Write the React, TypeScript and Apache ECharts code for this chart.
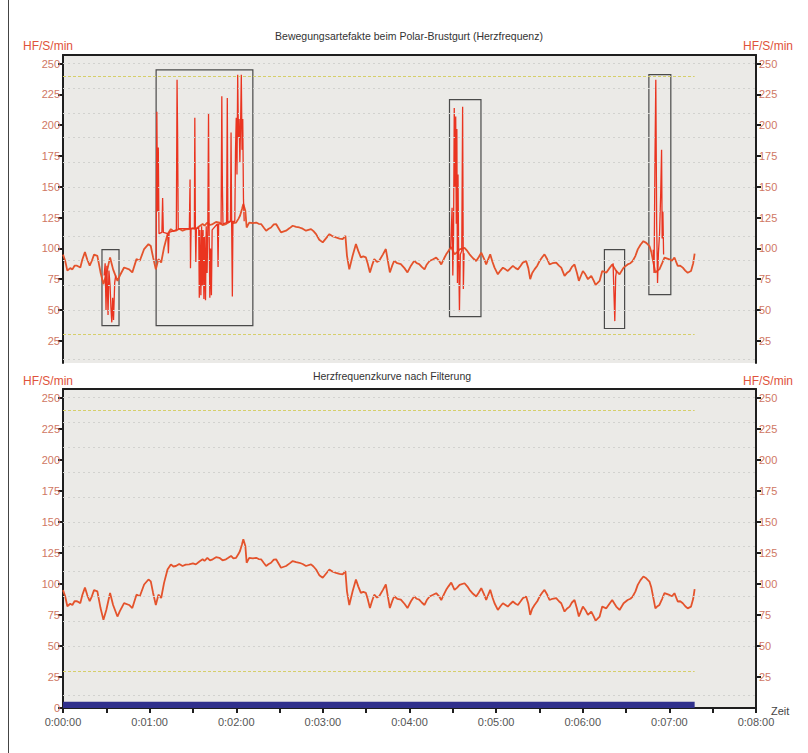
import React, { useEffect, useRef } from "react";
import * as echarts from "echarts";

// Filtered heart rate curve: [seconds, bpm]
const HR_FILTERED: [number, number][] = [
  [0, 95], [1.5, 90], [3, 82], [5, 84], [6.5, 83], [8, 86], [9.7, 86], [12, 84.5], [13.4, 91], [15.2, 97],
  [16.8, 91], [18.5, 86], [20, 90], [21.5, 95], [23.8, 94], [26, 80.5], [28, 71], [30, 79], [32.6, 92.7],
  [34.7, 83], [37.7, 73.7], [39.3, 77.8], [42.3, 84.5], [45.8, 83], [48, 80.5], [50.9, 91.3], [53.2, 90],
  [56.2, 99.5], [59.2, 103.5], [60.8, 102], [62.4, 92.7], [64.3, 83], [66.1, 91.3], [68, 88.6], [70, 100.8],
  [72.4, 111.6], [74.7, 115.7], [76.5, 114], [78.2, 114.4], [80.5, 116], [82.8, 114.4], [85, 115.5],
  [87.4, 115.7], [90, 116.5], [92, 115.7], [94.5, 118], [96.7, 119.8], [98, 118.5], [100, 121], [101.8, 119],
  [103.7, 119.8], [106, 121.5], [108.3, 121], [110.5, 119], [112.9, 119.8], [114.5, 121], [116.4, 122.5],
  [118, 120.5], [119.9, 121], [121.5, 124], [122.6, 126.5], [124, 132], [124.9, 136], [126.3, 130.6],
  [127.2, 117], [129, 121], [131.5, 120.5], [133.8, 121], [135.5, 120], [137.2, 119.8], [139, 117],
  [140.7, 114.4], [142.5, 116], [144.1, 117], [146, 119.5], [147.6, 119.8], [149.5, 116], [151, 113],
  [154.5, 114.4], [157, 116.5], [159.1, 118.4], [161.5, 117.5], [163.7, 117], [166, 116], [168.3, 114.4],
  [171.8, 115.7], [173.5, 114], [175.3, 111.6], [177.5, 107], [179.9, 104.9], [182, 108], [184.5, 111.6],
  [186.5, 110], [189.1, 108.9], [191.5, 108], [193.7, 107.6], [195.6, 110.3], [196.7, 94], [198.3, 83],
  [200.6, 94], [202.9, 103.5], [204.5, 98], [206.3, 92.7], [208, 93.5], [209.8, 92.7], [211, 88],
  [212.6, 80.5], [214, 86], [215.6, 91.3], [217.5, 89], [219, 90], [221.5, 95], [223.6, 99.5], [225, 90],
  [226.4, 80.5], [228, 86], [229.4, 90], [231.5, 88], [234, 87.3], [236.5, 84], [238.6, 80.5], [241, 86],
  [243.3, 90], [245, 88], [246.7, 87.3], [248.5, 85], [250.4, 83], [252, 87], [253.9, 89.8], [256, 91],
  [258.5, 92.5], [260.5, 90], [262, 87], [264, 92], [265.4, 95.2], [267, 98], [268.9, 101.1], [271.2, 95.2],
  [273, 97], [274.7, 99.2], [278.1, 100.5], [280, 98], [281.6, 95.2], [284, 92], [286.2, 89.8], [288, 93],
  [289.7, 96.5], [291.5, 92], [293.1, 87], [295.9, 95.2], [297.5, 89], [298.9, 84.4], [301.2, 79], [303, 82],
  [304.7, 84.4], [306.5, 83], [308.1, 81.7], [310, 84], [311.6, 85.8], [313.5, 84], [315.1, 83], [317, 86],
  [318.5, 88.5], [320.8, 89.8], [322.3, 84], [323.6, 75], [325, 80], [326.6, 83], [328.5, 86], [330.1, 89.8],
  [332, 93], [333.5, 95.2], [335.5, 91], [337, 87], [339, 88], [341.6, 88.5], [343.5, 86], [345.1, 84.4],
  [347.4, 77.7], [349, 80], [350.9, 81.7], [352.5, 85], [354.3, 87], [356, 80], [357.3, 73.7], [358.8, 78],
  [360.1, 81.7], [361.8, 79], [363.6, 75], [365.9, 77.7], [367.5, 74], [368.9, 70.4], [370.3, 72],
  [371.7, 73.7], [373.5, 81.7], [376.3, 80.3], [378.5, 84], [380.4, 87], [382, 84], [383.2, 81.7],
  [385.5, 79], [388.3, 84.4], [391.1, 87], [393, 88], [394.6, 89.8], [396.5, 94], [398.1, 99.2], [400, 103],
  [402, 105.9], [404, 104.5], [406.2, 101.9], [407.5, 97], [408.5, 91.1], [410.3, 80.3], [411.8, 82],
  [413.1, 83], [415, 88], [416.6, 92.5], [420, 91.1], [421.8, 90], [423.5, 92.5], [425.8, 85.8], [427.5, 86],
  [429.3, 84.4], [431, 82], [432.7, 80.3], [435, 81.7], [436.5, 88], [437.5, 95.7],
];

// Motion artefacts seen in the raw chest-strap signal: bursts of [seconds, bpm]
const ARTIFACT_BURSTS: [number, number][][] = [
  [[28.5, 78], [29.2, 88], [29.8, 50], [30.4, 86], [31.2, 46], [31.8, 82], [32.6, 70], [33.2, 52],
   [33.8, 40], [34.4, 60], [35, 42], [35.8, 72], [36.5, 78]],
  [[64.5, 90], [65, 211], [65.5, 130], [66, 182], [66.5, 112], [68.5, 113], [69, 141], [69.5, 113],
   [72.5, 112], [73, 96], [73.5, 113], [78.5, 115], [79, 237], [79.4, 190], [79.8, 116], [87.5, 116],
   [88, 156], [88.3, 84], [88.7, 116], [91, 116], [91.3, 206], [91.7, 116], [92, 89], [92.4, 116],
   [94, 117], [94.4, 60], [94.8, 115], [95.5, 62], [96, 118], [96.5, 70], [97, 115], [97.6, 59], [98, 110],
   [98.7, 58], [99.2, 118], [99.8, 80], [100.3, 117], [100.8, 210], [101.2, 118], [101.7, 60], [102.2, 100],
   [102.8, 62], [103.3, 115], [107, 120], [107.4, 85], [107.8, 120], [109.5, 120], [110, 223.5],
   [110.4, 150], [110.8, 120], [113.3, 121], [113.8, 222], [114.2, 121], [116, 122], [116.4, 194],
   [116.8, 122], [117.3, 61], [117.7, 122], [119, 122], [119.5, 180], [120, 206], [120.5, 160],
   [121, 241], [121.5, 190], [122, 205], [122.5, 170], [123, 200], [123.5, 241], [124, 180], [124.5, 205],
   [125, 140], [125.5, 122]],
  [[268.5, 100], [269.5, 133], [270, 78], [270.5, 110], [271, 214], [271.5, 150], [272, 207], [272.4, 120],
   [272.8, 197], [273.2, 72], [273.6, 160], [274, 100], [274.6, 49], [275.2, 95], [276.2, 98], [276.8, 215],
   [277.3, 67], [277.8, 96]],
  [[381, 88], [381.6, 64], [382.2, 41], [382.8, 77], [383.4, 82]],
  [[408.8, 99], [409.4, 80], [410, 169], [410.6, 237], [411.2, 120], [411.8, 72], [412.4, 96], [413.2, 112],
   [414, 145], [414.6, 180], [415, 108], [415.5, 130], [416, 95]],
];

// Annotation boxes around the artefacts: [t start, t end, bpm low, bpm high]
const ARTIFACT_BOXES: [number, number, number, number][] = [
  [27, 38.8, 37.3, 99],
  [64.5, 131.5, 37.3, 245],
  [267.7, 289.5, 44.6, 220.8],
  [375, 389, 35, 99],
  [405.8, 421, 62.5, 241],
];

const Y_TICKS = [0, 25, 50, 75, 100, 125, 150, 175, 200, 225, 250];
const GRID_LINES = [10, 50, 70, 90, 110, 130, 150, 170, 190, 210, 230, 250];
const LIMIT_LINES = [30, 240];
const RECORD_END = 437.5;
const TIME_MAX = 480;
const TOP_TITLE = "Bewegungsartefakte beim Polar-Brustgurt (Herzfrequenz)";
const BOTTOM_TITLE = "Herzfrequenzkurve nach Filterung";
const Y_NAME = "HF/S/min";
const X_NAME = "Zeit";

const FONT = "Liberation Sans, Arial, sans-serif";
const DARK = "#1e1e1e";
const TICK_COLOR = "#cf7763";
const NAME_COLOR = "#e0533b";
const LINE_COLOR = "#e4532c";
const SPIKE_COLOR = "#ea3420";

function fmtTime(s: number): string {
  const m = Math.floor(s / 60);
  const sec = Math.round(s % 60);
  return `0:${String(m).padStart(2, "0")}:${String(sec).padStart(2, "0")}`;
}

export default function App() {
  const ref = useRef<HTMLDivElement>(null);

  useEffect(() => {
    if (!ref.current) return;
    const chart = echarts.init(ref.current, undefined, { renderer: "svg" });

    const topMin = 7;
    const yMax = 257;
    const TOP_RECT = { left: 63, right: 52, top: 55, height: 308 };
    const BOT_RECT = { left: 63, right: 52, top: 389, height: 319 };
    const darkLine = { show: true, onZero: false, lineStyle: { color: DARK, width: 2 } };

    const yAxis = (gridIndex: number, position: "left" | "right", min: number, ticks: number[]) => ({
      type: "value",
      gridIndex,
      position,
      min,
      max: yMax,
      axisLine: darkLine,
      axisTick: { show: true, length: 5, customValues: ticks, lineStyle: { color: DARK, width: 2 } },
      axisLabel: { customValues: ticks, color: TICK_COLOR, fontSize: 11, fontFamily: FONT, margin: 3 },
      splitLine: { show: false },
    });
    const hiddenY = (gridIndex: number, min: number) => ({
      type: "value", gridIndex, min, max: yMax, show: false,
      axisLine: { show: false, onZero: false }, splitLine: { show: false },
    });
    const borderX = (gridIndex: number) => ({
      type: "value", gridIndex, position: "top", min: 0, max: TIME_MAX,
      axisLine: darkLine,
      axisTick: { show: false }, axisLabel: { show: false }, splitLine: { show: false },
    });
    const hiddenX = (gridIndex: number) => ({
      type: "value", gridIndex, min: 0, max: TIME_MAX, show: false,
      axisLine: { show: false, onZero: false }, splitLine: { show: false },
    });

    const topTicks = Y_TICKS.filter((v) => v >= topMin);
    const bottomRightTicks = Y_TICKS.filter((v) => v > 0);

    const artifactData: any[] = [];
    ARTIFACT_BURSTS.forEach((b, i) => {
      if (i > 0) artifactData.push(null);
      b.forEach((p) => artifactData.push(p));
    });

    const gridMarkLine = {
      silent: true,
      symbol: ["none", "none"],
      label: { show: false },
      data: [
        ...GRID_LINES.map((v) => ({ yAxis: v, lineStyle: { color: "#d2d2cf", type: [2, 3], width: 1 } })),
        ...LIMIT_LINES.map((v) => [
          { coord: [0, v], lineStyle: { color: "#d6cf6a", type: [3, 2], width: 1 } },
          { coord: [RECORD_END, v] },
        ]),
      ],
    };

    const option: any = {
      animation: false,
      grid: [
        { ...TOP_RECT, show: true, backgroundColor: "#ebeae7", borderWidth: 0 }, // 0 top chart, left axis + top border
        { ...TOP_RECT, show: false }, // 1 top chart, right axis
        { ...BOT_RECT, show: true, backgroundColor: "#ebeae7", borderWidth: 0 }, // 2 bottom chart, time axis + left
        { ...BOT_RECT, show: false }, // 3 bottom chart, top border + right axis
        { ...BOT_RECT, show: false }, // 4 bottom chart, half-minute ticks
      ],
      xAxis: [
        borderX(0),
        hiddenX(1),
        {
          type: "value", gridIndex: 2, position: "bottom", min: 0, max: TIME_MAX, interval: 60,
          axisLine: darkLine,
          axisTick: { show: true, length: 5, lineStyle: { color: DARK, width: 2 } },
          axisLabel: { color: "#555", fontSize: 11, fontFamily: FONT, margin: 8, formatter: (v: number) => fmtTime(v) },
          splitLine: { show: false },
        },
        borderX(3),
        {
          type: "value", gridIndex: 4, position: "bottom", min: 0, max: TIME_MAX, interval: 30,
          axisLine: { show: false, onZero: false },
          axisTick: { show: true, length: 5, lineStyle: { color: DARK, width: 2 } },
          axisLabel: { show: false }, splitLine: { show: false },
        },
      ],
      yAxis: [
        yAxis(0, "left", topMin, topTicks),
        yAxis(1, "right", topMin, topTicks),
        yAxis(2, "left", 0, Y_TICKS),
        yAxis(3, "right", 0, bottomRightTicks),
        hiddenY(4, 0),
      ],
      series: [
        { type: "line", xAxisIndex: 0, yAxisIndex: 0, data: [], z: 1, markLine: gridMarkLine },
        { type: "line", xAxisIndex: 2, yAxisIndex: 2, data: [], z: 1, markLine: gridMarkLine },
        {
          type: "line", xAxisIndex: 0, yAxisIndex: 0, data: HR_FILTERED, showSymbol: false, z: 3,
          lineStyle: { color: LINE_COLOR, width: 1.8 }, silent: true,
        },
        {
          type: "line", xAxisIndex: 0, yAxisIndex: 0, data: artifactData, showSymbol: false, z: 4,
          connectNulls: false, lineStyle: { color: SPIKE_COLOR, width: 1.3 }, silent: true,
          markArea: {
            silent: true,
            itemStyle: { color: "rgba(0,0,0,0)", borderColor: "#4a4a4a", borderWidth: 1.2 },
            data: ARTIFACT_BOXES.map(([t0, t1, lo, hi]) => [
              { coord: [t0, lo] },
              { coord: [t1, hi] },
            ]),
          },
        },
        {
          type: "line", xAxisIndex: 2, yAxisIndex: 2, data: HR_FILTERED, showSymbol: false, z: 3,
          lineStyle: { color: LINE_COLOR, width: 1.8 }, silent: true,
          markArea: {
            silent: true,
            itemStyle: { color: "#30308c" },
            data: [[{ coord: [0, 0] }, { coord: [RECORD_END, 5] }]],
          },
        },
      ],
      graphic: [
        { type: "line", shape: { x1: 8.5, y1: 0, x2: 8.5, y2: 753 }, style: { stroke: "#444", lineWidth: 1 } },
        { type: "text", x: 409, y: 36, style: { text: TOP_TITLE, align: "center", verticalAlign: "middle", font: `10.5px ${FONT}`, fill: "#333" } },
        { type: "text", x: 392, y: 376, style: { text: BOTTOM_TITLE, align: "center", verticalAlign: "middle", font: `10.5px ${FONT}`, fill: "#333" } },
        { type: "text", x: 48, y: 46, style: { text: Y_NAME, align: "center", verticalAlign: "middle", font: `12px ${FONT}`, fill: NAME_COLOR } },
        { type: "text", x: 768, y: 46, style: { text: Y_NAME, align: "center", verticalAlign: "middle", font: `12px ${FONT}`, fill: NAME_COLOR } },
        { type: "text", x: 48, y: 381, style: { text: Y_NAME, align: "center", verticalAlign: "middle", font: `12px ${FONT}`, fill: NAME_COLOR } },
        { type: "text", x: 768, y: 381, style: { text: Y_NAME, align: "center", verticalAlign: "middle", font: `12px ${FONT}`, fill: NAME_COLOR } },
        { type: "text", x: 771, y: 711, style: { text: X_NAME, align: "left", verticalAlign: "middle", font: `11px ${FONT}`, fill: "#444" } },
      ],
    };

    chart.setOption(option);
    return () => chart.dispose();
  }, []);

  return <div ref={ref} style={{ width: 808, height: 753, position: "absolute", left: 0, top: 0 }} />;
}
